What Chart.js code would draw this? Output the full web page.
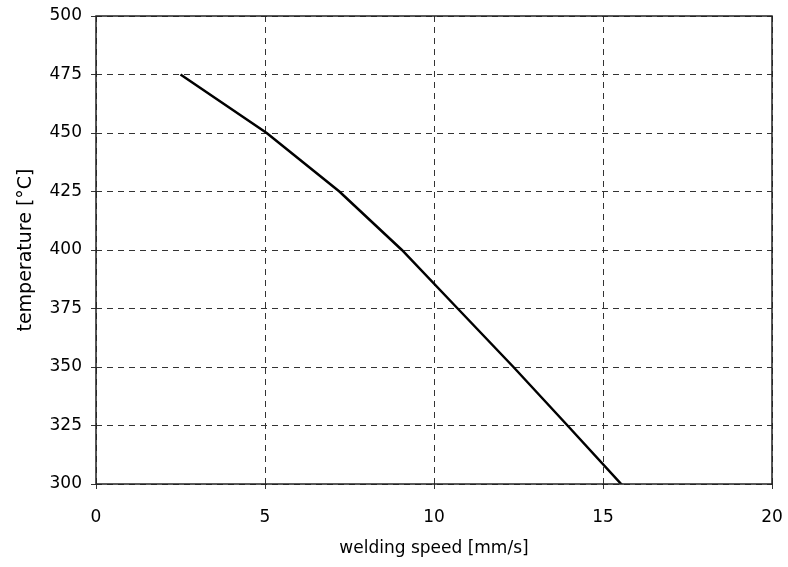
<!DOCTYPE html>
<html>
<head>
<meta charset="utf-8">
<script src="https://cdn.jsdelivr.net/npm/chart.js@4.4.1/dist/chart.umd.min.js"></script>
<style>
  html, body { margin: 0; padding: 0; background: #fff; }
  #wrap { width: 788px; height: 567px; }
</style>
</head>
<body>
<div id="wrap"><canvas id="chart"></canvas></div>
<script>
// welding speed [mm/s] vs temperature [°C]
const speed = [2.5, 5.05, 7.2, 9.05, 10.7, 12.35, 13.95, 15.6];
const temperature = [475, 450, 425, 400, 375, 350, 325, 299];

const xTicks = [0, 5, 10, 15, 20];
const yTicks = [300, 325, 350, 375, 400, 425, 450, 475, 500];

const points = speed.map((s, i) => ({ x: s, y: temperature[i] }));

// solid frame round the plot area
const frame = {
  id: 'frame',
  afterDatasetsDraw(chart) {
    const a = chart.chartArea;
    const c = chart.ctx;
    c.save();
    c.strokeStyle = '#222';
    c.lineWidth = 1.5;
    c.setLineDash([]);
    c.strokeRect(a.left, a.top, a.right - a.left, a.bottom - a.top);
    c.restore();
  }
};

const ctx = document.getElementById('chart');

new Chart(ctx, {
  type: 'scatter',
  data: {
    datasets: [{
      data: points,
      showLine: true,
      borderColor: '#000',
      borderWidth: 2.5,
      pointRadius: 0,
      fill: false,
      tension: 0
    }]
  },
  options: {
    responsive: true,
    maintainAspectRatio: false,
    animation: false,
    layout: { padding: { top: 16, right: 16, left: 0, bottom: 0 } },
    plugins: {
      legend: { display: false },
      tooltip: { enabled: false }
    },
    scales: {
      x: {
        type: 'linear',
        min: 0,
        max: 20,
        afterBuildTicks: (s) => { s.ticks = xTicks.map(v => ({ value: v })); },
        afterFit: (s) => {
          s.height = 83;
          s.paddingLeft = 0;
          s.paddingRight = 0;
        },
        grid: {
          color: '#333',
          lineWidth: 1,
          tickLength: 5,
          tickColor: '#333'
        },
        border: { display: false, dash: [6, 5] },
        ticks: {
          color: '#000',
          padding: 18,
          font: { family: 'DejaVu Sans', size: 17 }
        },
        title: {
          display: true,
          text: 'welding speed [mm/s]',
          color: '#000',
          padding: { top: 0, bottom: 8 },
          font: { family: 'DejaVu Sans', size: 17 }
        }
      },
      y: {
        type: 'linear',
        min: 300,
        max: 500,
        afterBuildTicks: (s) => { s.ticks = yTicks.map(v => ({ value: v })); },
        afterFit: (s) => {
          s.width = 96;
          s.paddingTop = 0;
          s.paddingBottom = 0;
        },
        grid: {
          color: '#333',
          lineWidth: 1,
          tickLength: 5,
          tickColor: '#333'
        },
        border: { display: false, dash: [6, 5] },
        ticks: {
          color: '#000',
          padding: 9,
          font: { family: 'DejaVu Sans', size: 17 }
        },
        title: {
          display: true,
          text: 'temperature [°C]',
          color: '#000',
          padding: { top: 15, bottom: 0 },
          font: { family: 'DejaVu Sans', size: 19 }
        }
      }
    }
  },
  plugins: [frame]
});
</script>
</body>
</html>
